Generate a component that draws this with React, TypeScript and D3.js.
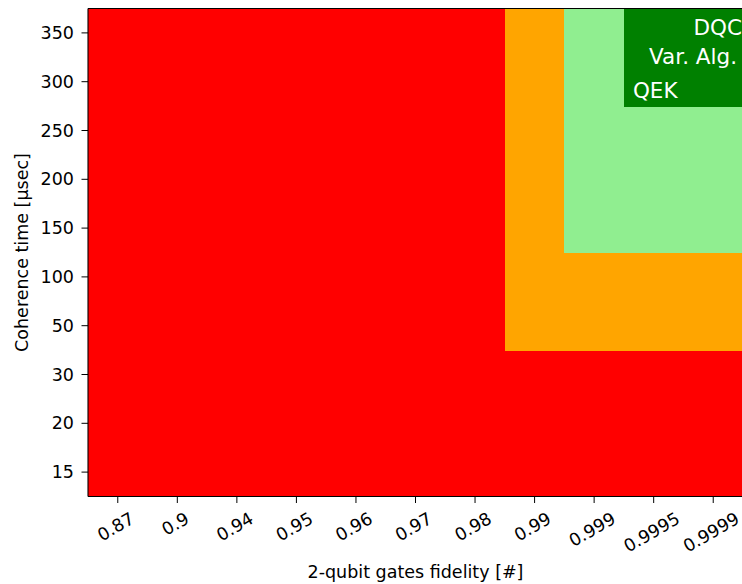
import React from "react";
import * as d3 from "d3";

// Axis categories
const fidelityLabels = ["0.87", "0.9", "0.94", "0.95", "0.96", "0.97", "0.98", "0.99", "0.999", "0.9995", "0.9999"];
const coherenceLabels = [15, 20, 30, 50, 100, 150, 200, 250, 300, 350];

// Feasibility tiers: minimum gate fidelity and coherence time for each tier
const tierMinFidelity = ["0.99", "0.999", "0.9995"];
const tierMinCoherence = [50, 150, 300];
const levelColors = ["#ff0000", "#ffa500", "#90ee90", "#008000"];

// Algorithm labels drawn inside the top tier
const algorithmLabels = ["DQC", "Var. Alg.", "QEK"];

const W = 742;
const H = 584;
const left = 88;
const right = 743;
const top = 8.5;
const bottom = 496.5;
const FONT = "DejaVu Sans, sans-serif";
const TICK_FS = 17.5;
const ANN_FS = 21.5;

function levelOf(fid: string, coh: number): number {
  const fi = fidelityLabels.indexOf(fid);
  let level = 0;
  tierMinFidelity.forEach((f, i) => {
    if (fi >= fidelityLabels.indexOf(f) && coh >= tierMinCoherence[i]) level = i + 1;
  });
  return level;
}

function textWidth(s: string, size: number): number {
  let w = 0;
  for (const c of s) w += c === "." ? 0.318 : 0.636;
  return w * size;
}

export default function App() {
  const x = d3.scaleBand<string>().domain(fidelityLabels).range([left, right]).padding(0);
  const y = d3
    .scaleBand<string>()
    .domain(coherenceLabels.slice().reverse().map(String))
    .range([top, bottom])
    .padding(0);
  const bw = x.bandwidth();
  const bh = y.bandwidth();

  const cells: { f: string; c: number; level: number }[] = [];
  fidelityLabels.forEach((f) => coherenceLabels.forEach((c) => cells.push({ f, c, level: levelOf(f, c) })));

  // Region occupied by the top tier
  const topTier = tierMinFidelity.length - 1;
  const tierLeft = x(tierMinFidelity[topTier])!;
  const tierRight = x(fidelityLabels[fidelityLabels.length - 1])! + bw;
  const tierTop = y(String(coherenceLabels[coherenceLabels.length - 1]))!;

  return (
    <svg width={W} height={H} style={{ position: "absolute", left: 0, top: 0, background: "#fff" }} fontFamily={FONT}>
      <g shapeRendering="crispEdges">
        {cells.map((d) => (
          <rect
            key={d.f + "-" + d.c}
            x={x(d.f)!}
            y={y(String(d.c))!}
            width={bw + 0.5}
            height={bh + 0.5}
            fill={levelColors[d.level]}
          />
        ))}
      </g>

      {/* algorithm annotations */}
      <g fill="#ffffff" fontSize={ANN_FS}>
        <text x={tierRight - 1} y={tierTop + 26.5} textAnchor="end">
          {algorithmLabels[0]}
        </text>
        <text x={tierRight - 6} y={tierTop + 55} textAnchor="end">
          {algorithmLabels[1]}
        </text>
        <text x={tierLeft + 9} y={tierTop + 89} textAnchor="start">
          {algorithmLabels[2]}
        </text>
      </g>

      {/* frame */}
      <g stroke="#000" strokeWidth={1.1} fill="none">
        <line x1={left} x2={left} y1={top} y2={bottom} />
        <line x1={left} x2={right} y1={top} y2={top} />
        <line x1={left} x2={right} y1={bottom} y2={bottom} />
      </g>

      {/* y axis */}
      <g fontSize={TICK_FS} fill="#000">
        {coherenceLabels.map((c) => {
          const cy = y(String(c))! + bh / 2;
          return (
            <g key={c}>
              <line x1={left - 6.5} x2={left} y1={cy} y2={cy} stroke="#000" strokeWidth={1} />
              <text x={left - 14} y={cy} textAnchor="end" dominantBaseline="central">
                {c}
              </text>
            </g>
          );
        })}
      </g>

      {/* x axis */}
      <g fontSize={TICK_FS} fill="#000">
        {fidelityLabels.map((f) => {
          const cx = x(f)! + bw / 2;
          const w = textWidth(f, TICK_FS);
          const cy = 517 + w / 4;
          return (
            <g key={f}>
              <line x1={cx} x2={cx} y1={bottom} y2={bottom + 6.5} stroke="#000" strokeWidth={1} />
              <text
                transform={`translate(${cx - 2},${cy}) rotate(-30)`}
                textAnchor="middle"
                dominantBaseline="central"
              >
                {f}
              </text>
            </g>
          );
        })}
      </g>

      <text x={(left + right) / 2} y={578} textAnchor="middle" fontSize={TICK_FS} fill="#000">
        2-qubit gates fidelity [#]
      </text>
      <text
        transform={`translate(28,${(top + bottom) / 2}) rotate(-90)`}
        textAnchor="middle"
        fontSize={TICK_FS}
        fill="#000"
      >
        Coherence time [μsec]
      </text>
    </svg>
  );
}
